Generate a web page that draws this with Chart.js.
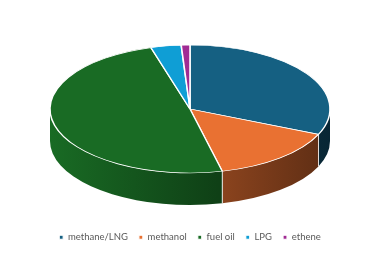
<!DOCTYPE html>
<html>
<head>
<meta charset="utf-8">
<script src="https://cdn.jsdelivr.net/npm/chart.js@4"></script>
<style>
html,body{margin:0;padding:0;background:#fff;}
#wrap{width:380px;height:253px;position:relative;}
</style>
</head>
<body>
<div id="wrap"><canvas id="c"></canvas></div>
<script>
const categories = ['methane/LNG', 'methanol', 'fuel oil', 'LPG', 'ethene'];
const values = [31.5, 14.8, 49.2, 3.5, 1.0];
const colors = ['#156082', '#E97132', '#196B24', '#0F9ED5', '#A02B93'];

// 3D look parameters (styling only)
const CX = 190, CY = 109, RX = 140, RY = 64, DEPTH = 32;

function shade(hex, f) {
  const n = parseInt(hex.slice(1), 16);
  const r = Math.round(((n >> 16) & 255) * f);
  const g = Math.round(((n >> 8) & 255) * f);
  const b = Math.round((n & 255) * f);
  return `rgb(${r},${g},${b})`;
}

const tiltPlugin = {
  id: 'tilt3d',
  beforeDatasetsDraw(chart) {
    const ctx = chart.ctx;
    const meta = chart.getDatasetMeta(0);
    if (!meta.data.length) return;
    const p0 = meta.data[0].getProps(['x', 'y', 'outerRadius'], true);
    meta.data.forEach((arc, i) => {
      const p = arc.getProps(['startAngle', 'endAngle'], true);
      const a1 = Math.max(p.startAngle, 0);
      const a2 = Math.min(p.endAngle, Math.PI);
      if (a2 <= a1) return;
      const col = colors[i % colors.length];
      const g = ctx.createLinearGradient(CX - RX, 0, CX + RX, 0);
      g.addColorStop(0, shade(col, 1.0));
      g.addColorStop(0.6, shade(col, 0.6));
      g.addColorStop(1, shade(col, 0.4));
      ctx.save();
      ctx.beginPath();
      ctx.ellipse(CX, CY, RX, RY, 0, a1, a2, false);
      ctx.lineTo(CX + RX * Math.cos(a2), CY + DEPTH + RY * Math.sin(a2));
      ctx.ellipse(CX, CY + DEPTH, RX, RY, 0, a2, a1, true);
      ctx.closePath();
      ctx.fillStyle = g;
      ctx.fill();
      ctx.strokeStyle = 'rgba(255,255,255,0.9)';
      ctx.lineWidth = 0.8;
      [p.startAngle, p.endAngle].forEach(a => {
        if (a > 0.01 && a < Math.PI - 0.01) {
          ctx.beginPath();
          ctx.moveTo(CX + RX * Math.cos(a), CY + RY * Math.sin(a));
          ctx.lineTo(CX + RX * Math.cos(a), CY + DEPTH + RY * Math.sin(a));
          ctx.stroke();
        }
      });
      ctx.restore();
    });
    ctx.save();
    ctx.translate(CX, CY);
    ctx.scale(RX / p0.outerRadius, RY / p0.outerRadius);
    ctx.translate(-p0.x, -p0.y);
  },
  afterDatasetsDraw(chart) {
    chart.ctx.restore();
  }
};

new Chart(document.getElementById('c'), {
  type: 'pie',
  data: {
    labels: categories,
    datasets: [{
      data: values,
      backgroundColor: colors,
      borderColor: '#ffffff',
      borderWidth: 1.2
    }]
  },
  options: {
    responsive: true,
    maintainAspectRatio: false,
    animation: false,
    events: [],
    layout: { padding: { bottom: 1 } },
    plugins: {
      tooltip: { enabled: false },
      legend: {
        position: 'bottom',
        labels: {
          boxWidth: 4,
          boxHeight: 4,
          padding: 11,
          color: '#595959',
          font: { family: 'Lato', size: 9.5 }
        }
      }
    }
  },
  plugins: [tiltPlugin]
});
</script>
</body>
</html>
